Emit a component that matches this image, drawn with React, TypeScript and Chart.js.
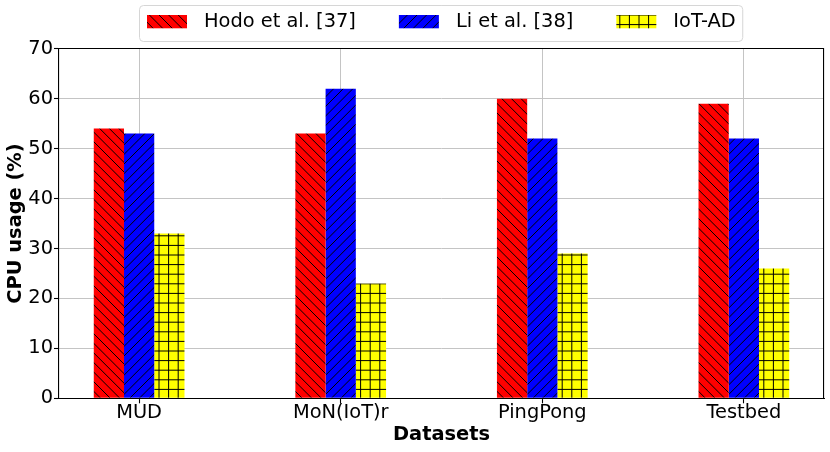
import { useEffect, useRef } from 'react';
import { Chart, registerables } from 'chart.js';

Chart.register(...registerables);

const categories = ['MUD', 'MoN(IoT)r', 'PingPong', 'Testbed'];
const seriesLabels = ['Hodo et al. [37]', 'Li et al. [38]', 'IoT-AD'];
const hodoValues = [54, 53, 60, 59];
const liValues = [53, 62, 52, 52];
const iotAdValues = [33, 23, 29, 26];
const yTicks = [0, 10, 20, 30, 40, 50, 60, 70];

const FAMILY = '"DejaVu Sans", sans-serif';
const FS = 19.4;

type HatchKind = 'back' | 'fwd' | 'grid';

function makeHatch(bg: string, kind: HatchKind): CanvasPattern | string {
  const P = 9.6;
  const S = 48;
  const c = document.createElement('canvas');
  c.width = S;
  c.height = S;
  const g = c.getContext('2d');
  if (!g) return bg;
  g.fillStyle = bg;
  g.fillRect(0, 0, S, S);
  g.strokeStyle = '#000';
  g.lineWidth = 1.0;
  g.beginPath();
  if (kind === 'grid') {
    for (let k = 0; k < 5; k++) {
      const v = 5.4 + k * P;
      g.moveTo(0, v);
      g.lineTo(S, v);
      g.moveTo(v, 0);
      g.lineTo(v, S);
    }
  } else {
    for (let k = -7; k <= 7; k++) {
      if (kind === 'back') {
        g.moveTo(k * P - 3, -3);
        g.lineTo(k * P + S + 3, S + 3);
      } else {
        g.moveTo(k * P - 3, S + 3);
        g.lineTo(k * P + S + 3, -3);
      }
    }
  }
  g.stroke();
  const p = g.createPattern(c, 'repeat');
  return p || bg;
}

function align(chart: any, pixel: number, width: number) {
  const dpr = chart.currentDevicePixelRatio || 1;
  const half = width / 2;
  return Math.round((pixel - half) * dpr) / dpr + half;
}

const frameLegendPlugin = {
  id: 'frameLegend',
  afterDraw(chart: any) {
    const { ctx, chartArea: a } = chart;
    ctx.save();
    ctx.strokeStyle = '#000';
    ctx.lineWidth = 1.1;
    const top = align(chart, a.top, 1.1);
    const right = align(chart, a.right, 1.1);
    const left = align(chart, a.left, 1.1);
    const bottom = align(chart, a.bottom, 1.1);
    ctx.beginPath();
    ctx.moveTo(left, top);
    ctx.lineTo(right, top);
    ctx.lineTo(right, bottom);
    ctx.stroke();

    ctx.font = `${FS}px ${FAMILY}`;
    const ds = chart.data.datasets;
    const swW = 40;
    const swH = 13.3;
    const swY = 15;
    const textGap = 17;
    const itemGap = 43;
    const items: { x: number; tx: number; w: number }[] = [];
    let x = 147;
    for (let i = 0; i < ds.length; i++) {
      const w = ctx.measureText(ds[i].label).width;
      items.push({ x, tx: x + swW + textGap, w });
      x = x + swW + textGap + w + itemGap;
    }
    const last = items[items.length - 1];
    const boxL = 139.5;
    const boxR = last.tx + last.w + 7;
    const boxT = 5.5;
    const boxB = 41.5;
    const r = 4;
    ctx.beginPath();
    ctx.moveTo(boxL + r, boxT);
    ctx.lineTo(boxR - r, boxT);
    ctx.arcTo(boxR, boxT, boxR, boxT + r, r);
    ctx.lineTo(boxR, boxB - r);
    ctx.arcTo(boxR, boxB, boxR - r, boxB, r);
    ctx.lineTo(boxL + r, boxB);
    ctx.arcTo(boxL, boxB, boxL, boxB - r, r);
    ctx.lineTo(boxL, boxT + r);
    ctx.arcTo(boxL, boxT, boxL + r, boxT, r);
    ctx.closePath();
    ctx.fillStyle = 'rgba(255,255,255,0.8)';
    ctx.fill();
    ctx.strokeStyle = '#d6d6d6';
    ctx.lineWidth = 1;
    ctx.stroke();

    ctx.textBaseline = 'middle';
    ctx.textAlign = 'left';
    for (let i = 0; i < ds.length; i++) {
      const it = items[i];
      ctx.fillStyle = ds[i].backgroundColor;
      ctx.fillRect(it.x, swY, swW, swH);
      ctx.fillStyle = '#000';
      ctx.fillText(ds[i].label, it.tx, swY + swH / 2 + 0.5);
    }
    ctx.restore();
  },
};

export default function App() {
  const ref = useRef<HTMLCanvasElement | null>(null);

  useEffect(() => {
    if (!ref.current) return;
    const patterns = [
      makeHatch('#ff0000', 'back'),
      makeHatch('#0000ff', 'fwd'),
      makeHatch('#ffff00', 'grid'),
    ];
    const values = [hodoValues, liValues, iotAdValues];
    const datasets = values.map((vals, i) => ({
      label: seriesLabels[i],
      data: vals.map((v, j) => ({ x: j, y: v })),
      backgroundColor: patterns[i] as any,
      borderWidth: 0,
      categoryPercentage: 0.45,
      barPercentage: 1,
    }));

    const tickFont = { family: FAMILY, size: FS };
    const titleFont = { family: FAMILY, size: FS, weight: 'bold' as const };

    const chart = new Chart(ref.current, {
      type: 'bar',
      data: { datasets },
      plugins: [frameLegendPlugin],
      options: {
        animation: false,
        responsive: true,
        maintainAspectRatio: false,
        layout: { padding: { top: 48.7, right: 6, left: 0, bottom: 0 } },
        plugins: { legend: { display: false }, tooltip: { enabled: false } },
        scales: {
          x: {
            type: 'linear',
            min: -0.3975,
            max: 3.3975,
            offset: false,
            z: 1,
            afterBuildTicks: (s: any) => {
              s.ticks = categories.map((_, i) => ({ value: i }));
            },
            ticks: {
              autoSkip: false,
              maxRotation: 0,
              minRotation: 0,
              includeBounds: false,
              callback: (v: any) => categories[Math.round(Number(v))] ?? '',
              font: tickFont,
              color: '#000',
              padding: -2,
            },
            grid: {
              color: '#c4c4c4',
              lineWidth: 1,
              tickLength: 5,
              tickColor: '#000',
              tickWidth: 1.1,
              offset: false,
            },
            border: { color: '#000', width: 1.1 },
            title: {
              display: true,
              text: 'Datasets',
              font: titleFont,
              color: '#000',
              padding: { top: 0, bottom: 5.8 },
            },
            afterFit: (s: any) => {
              s.height = 53.7;
            },
          },
          y: {
            min: 0,
            max: 70,
            z: 1,
            afterBuildTicks: (s: any) => {
              s.ticks = yTicks.map((v) => ({ value: v }));
            },
            ticks: {
              font: tickFont,
              color: '#000',
              padding: 1,
            },
            grid: {
              color: '#c4c4c4',
              lineWidth: 1,
              tickLength: 5,
              tickColor: '#000',
              tickWidth: 1.1,
            },
            border: { color: '#000', width: 1.1 },
            title: {
              display: true,
              text: 'CPU usage (%)',
              font: titleFont,
              color: '#000',
              padding: { top: 4, bottom: 0 },
            },
            afterFit: (s: any) => {
              s.width = 59;
            },
          },
        },
      } as any,
    });
    return () => chart.destroy();
  }, []);

  return (
    <div style={{ position: 'absolute', left: 0, top: 0, width: 830, height: 452, background: '#fff' }}>
      <canvas ref={ref} />
    </div>
  );
}
